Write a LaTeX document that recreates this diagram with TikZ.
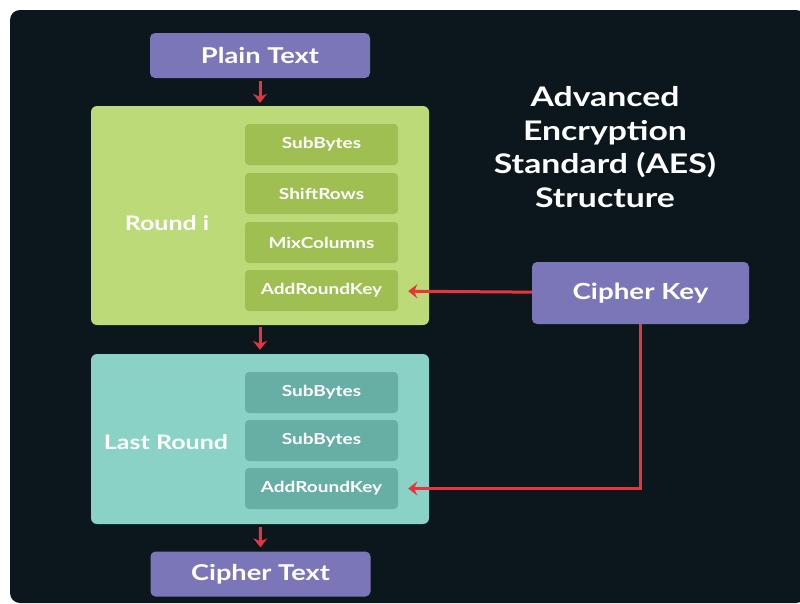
\documentclass[tikz,border=0pt]{standalone}
\usepackage{fontspec}
\setmainfont{Lato}[FakeStretch=1.25]
\usetikzlibrary{positioning}
\usetikzlibrary{arrows.meta}

\definecolor{bgdark}{HTML}{0B171C}
\definecolor{lilac}{HTML}{7B76B7}
\definecolor{lime}{HTML}{BCDA77}
\definecolor{limedark}{HTML}{A0BF52}
\definecolor{aqua}{HTML}{8AD2C6}
\definecolor{aquadark}{HTML}{67AFA4}
\definecolor{keyred}{HTML}{E8343F}

\newcommand{\fsz}[1]{\bfseries\fontsize{#1}{#1}\selectfont}

\tikzset{io/.style = {fill=lilac, rounded corners=5pt, text=white,
                      font=\fsz{21.8}, minimum width=220pt,
                      minimum height=45pt, inner sep=0}}
\tikzset{stage/.style = {rounded corners=6pt, minimum width=338pt,
                         inner sep=0}}
\tikzset{stagename/.style = {text=white, font=\fsz{20}, inner sep=0}}
\tikzset{op/.style = {rounded corners=4pt, text=white, font=\fsz{15.2},
                      minimum width=153pt, minimum height=41pt, inner sep=0}}
\tikzset{flow/.style = {keyred, line width=3pt,
                        -{Stealth[length=9pt,width=14pt,inset=3pt]}}}

\begin{document}
\begin{tikzpicture}[x=1pt,y=-1pt]
  \useasboundingbox (0,0) rectangle (800,603);
  \fill[white] (0,0) rectangle (800,603);
  \fill[bgdark, rounded corners=10pt] (10,10) rectangle (806,603);

  % input / output
  \node[io] (plain) at (260,55.5) {Plain Text};
  \node[io] (ctext) at (260.5,574) {Cipher Text};
  \node[io, minimum width=217pt, minimum height=62pt, font=\fsz{22.2}]
    (key) at (640.5,293) {Cipher Key};

  % round i
  \node[stage, fill=lime, minimum height=219pt] (round) at (260,215.5) {};
  \node[stagename] (roundname) at (167,223) {Round i};
  \node[op, fill=limedark] (sub1) at (321.5,144.5) {SubBytes};
  \node[op, fill=limedark] (shift) at (321.5,193.5) {ShiftRows};
  \node[op, fill=limedark] (mix) at (321.5,242.5) {MixColumns};
  \node[op, fill=limedark] (add1) at (321.5,290.5) {AddRoundKey};

  % last round
  \node[stage, fill=aqua, minimum height=170pt] (last) at (260,439) {};
  \node[stagename] (lastname) at (166,442) {Last Round};
  \node[op, fill=aquadark] (sub2) at (321.5,392.5) {SubBytes};
  \node[op, fill=aquadark] (sub3) at (321.5,440.5) {SubBytes};
  \node[op, fill=aquadark] (add2) at (321.5,488.5) {AddRoundKey};

  % title
  \node[text=white, font=\bfseries\fontsize{27}{33.8}\selectfont,
        align=center, inner sep=0]
    (title) at (605,147) {Advanced\\Encryption\\Standard (AES)\\Structure};

  % arrows
  \draw[flow, shorten <=3pt, shorten >=3pt] (plain) -- (round);
  \draw[flow, shorten <=2pt, shorten >=4pt] (round) -- (last);
  \draw[flow, shorten <=3pt, shorten >=4pt] (last) -- (ctext);
  \draw[flow, shorten >=10pt] (key) -- (add1);
  \draw[flow, shorten >=10pt] (key) |- (add2);
\end{tikzpicture}
\end{document}
